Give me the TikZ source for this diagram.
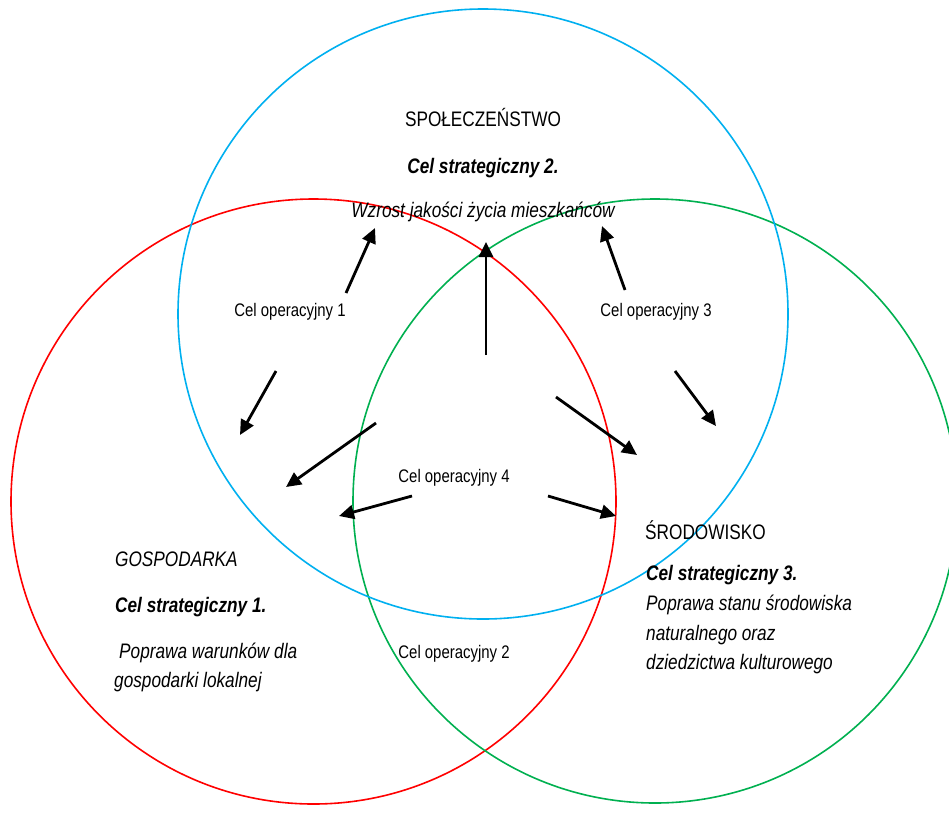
\documentclass[tikz,border=0pt]{standalone}
\usepackage{fontspec}
\setmainfont[FakeStretch=0.82]{Liberation Sans}
\usepackage{tikz}
\usetikzlibrary{arrows.meta, positioning}
\definecolor{socblue}{RGB}{0,176,240}
\definecolor{ecored}{RGB}{255,0,0}
\definecolor{envgreen}{RGB}{0,176,80}

\begin{document}
\begin{tikzpicture}[
  x=1pt, y=-1pt,
  ring/.style={draw, circle, line width=1.6pt, inner sep=0pt},
  big/.style={font=\fontsize{21pt}{24pt}\selectfont, inner sep=0pt},
  strat/.style={big, font=\fontsize{21pt}{24pt}\selectfont\bfseries\itshape},
  desc/.style={big, font=\fontsize{21pt}{24pt}\selectfont\itshape},
  oper/.style={font=\fontsize{18.2pt}{21pt}\selectfont, inner sep=0pt},
  arr/.style={-{Triangle[length=15pt, width=14pt]}, line width=2.8pt}
]
\useasboundingbox (0,0) rectangle (949,812);
\fill[white] (0,0) rectangle (949,812);

% three circles
\node[ring, draw=ecored, minimum size=605pt] (gosp) at (313.5,501.5) {};
\node[ring, draw=envgreen, minimum size=604pt] (srod) at (655,501) {};
\node[ring, draw=socblue, minimum size=610pt] (spol) at (483,314) {};

% society
\node[big, anchor=base] (spolname) at (483,126.5) {SPOŁECZEŃSTWO};
\node[strat, anchor=base] (cs2) at (483,173) {Cel strategiczny 2.};
\node[desc, anchor=base] (cs2d) at (483,217) {Wzrost jakości życia mieszkańców};

% economy
\node[desc, anchor=base west] (gospname) at (115,566) {GOSPODARKA};
\node[strat, anchor=base west] (cs1) at (115,612) {Cel strategiczny 1.};
\node[desc, anchor=base west] (cs1d) at (119,658) {Poprawa warunków dla};
\node[desc, anchor=base west] (cs1e) at (114,687) {gospodarki lokalnej};

% environment
\node[big, anchor=base west] (srodname) at (645,539) {ŚRODOWISKO};
\node[strat, anchor=base west] (cs3) at (646,580) {Cel strategiczny 3.};
\node[desc, anchor=base west] (cs3d) at (646,610) {Poprawa stanu środowiska};
\node[desc, anchor=base west] (cs3e) at (646,640) {naturalnego oraz};
\node[desc, anchor=base west] (cs3f) at (646,669) {dziedzictwa kulturowego};

% operational goals
\node[oper, anchor=base] (co1) at (290,316) {Cel operacyjny 1};
\node[oper, anchor=base] (co3) at (656,316) {Cel operacyjny 3};
\node[oper, anchor=base] (co4) at (454,482) {Cel operacyjny 4};
\node[oper, anchor=base] (co2) at (454,658) {Cel operacyjny 2};

% arrow ends
\coordinate (up1s) at (346,293);  \coordinate (up1e) at (375,228);
\coordinate (up2s) at (486,355);  \coordinate (up2e) at (486,242);
\coordinate (up3s) at (625,290);  \coordinate (up3e) at (602,226);
\coordinate (dn1s) at (276,371);  \coordinate (dn1e) at (240,435);
\coordinate (dn3s) at (675,371);  \coordinate (dn3e) at (716,426);
\coordinate (lf1s) at (376,423);  \coordinate (lf1e) at (286,487);
\coordinate (rt1s) at (556,397);  \coordinate (rt1e) at (637,455);
\coordinate (lf2s) at (412,496);  \coordinate (lf2e) at (339,516);
\coordinate (rt2s) at (548,496);  \coordinate (rt2e) at (616,516);

\draw[arr] (up1s) -- (up1e);
\draw[arr] (up2s) -- (up2e);
\draw[arr] (up3s) -- (up3e);
\draw[arr] (dn1s) -- (dn1e);
\draw[arr] (dn3s) -- (dn3e);
\draw[arr] (lf1s) -- (lf1e);
\draw[arr] (rt1s) -- (rt1e);
\draw[arr] (lf2s) -- (lf2e);
\draw[arr] (rt2s) -- (rt2e);
\end{tikzpicture}
\end{document}
